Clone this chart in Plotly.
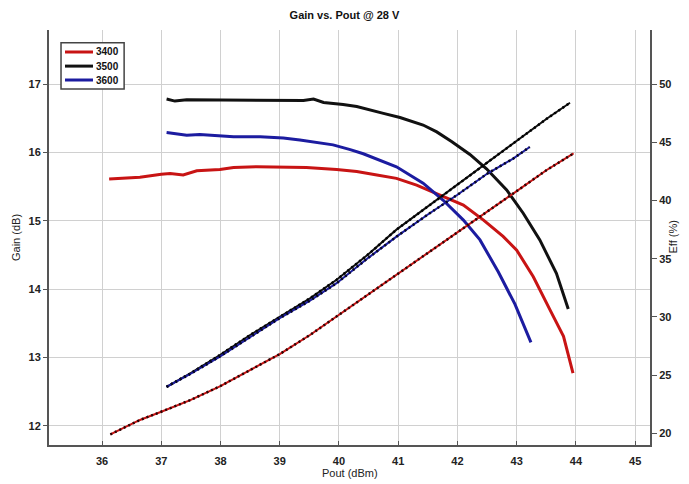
import plotly.graph_objects as go

# Gain curves (solid), x = Pout (dBm), y = Gain (dB)
g3400_x = [36.12, 36.64, 37.0, 37.15, 37.37, 37.6, 37.99, 38.22, 38.61, 39.0, 39.45, 39.96, 40.3, 40.64, 40.97, 41.31, 41.7, 42.1, 42.44, 42.77, 43.0, 43.28, 43.56, 43.79, 43.95]
g3400_y = [15.61, 15.636, 15.68, 15.69, 15.67, 15.73, 15.75, 15.78, 15.79, 15.79, 15.78, 15.75, 15.72, 15.67, 15.62, 15.52, 15.38, 15.23, 15.01, 14.77, 14.57, 14.18, 13.70, 13.31, 12.77]

g3500_x = [37.09, 37.23, 37.43, 37.94, 38.5, 39.06, 39.4, 39.57, 39.74, 40.07, 40.3, 40.75, 41.03, 41.42, 41.65, 41.9, 42.21, 42.49, 42.83, 43.11, 43.39, 43.67, 43.87]
g3500_y = [16.78, 16.75, 16.77, 16.77, 16.76, 16.77, 16.76, 16.78, 16.73, 16.70, 16.67, 16.57, 16.51, 16.40, 16.30, 16.16, 15.97, 15.76, 15.45, 15.11, 14.72, 14.23, 13.71]

g3600_x = [37.09, 37.43, 37.65, 38.22, 38.67, 39.06, 39.34, 39.62, 39.9, 40.19, 40.41, 40.97, 41.42, 41.76, 42.1, 42.38, 42.69, 42.97, 43.24]
g3600_y = [16.29, 16.25, 16.26, 16.23, 16.23, 16.21, 16.18, 16.15, 16.11, 16.04, 15.98, 15.79, 15.55, 15.30, 15.01, 14.72, 14.25, 13.78, 13.22]

# Efficiency curves (dotted), y = Eff (%)
e3400_x = [36.14, 36.64, 37.0, 37.49, 37.99, 38.5, 39.0, 39.51, 40.02, 40.69, 41.25, 41.82, 42.38, 42.94, 43.5, 43.96]
e3400_y = [19.91, 21.15, 21.86, 22.86, 24.04, 25.44, 26.81, 28.45, 30.25, 32.6, 34.6, 36.6, 38.6, 40.6, 42.6, 44.05]

e3500_x = [37.09, 37.49, 37.99, 38.5, 39.0, 39.51, 39.96, 40.5, 40.97, 41.5, 42.0, 42.49, 43.0, 43.5, 43.9]
e3500_y = [24.0, 25.15, 26.73, 28.45, 30.0, 31.6, 33.2, 35.4, 37.5, 39.5, 41.4, 43.2, 45.1, 47.0, 48.4]

e3600_x = [37.09, 37.49, 37.99, 38.5, 39.0, 39.51, 39.96, 40.5, 40.97, 41.5, 42.0, 42.5, 42.94, 43.22]
e3600_y = [24.0, 25.1, 26.6, 28.3, 29.9, 31.4, 32.9, 35.1, 36.9, 38.8, 40.5, 42.3, 43.6, 44.6]

names = ["3400", "3500", "3600"]
colors = ["#c81414", "#111111", "#1c1ca0"]
dotcolors = ["#2a0404", "#000000", "#060620"]

gains = [(g3400_x, g3400_y), (g3500_x, g3500_y), (g3600_x, g3600_y)]
effs = [(e3400_x, e3400_y), (e3500_x, e3500_y), (e3600_x, e3600_y)]

fig = go.Figure()
for (gx, gy), n, c in zip(gains, names, colors):
    fig.add_trace(go.Scatter(x=gx, y=gy, mode="lines", name=n, showlegend=False,
                             line=dict(color=c, width=3)))
for (ex, ey), n, c, dc in zip(effs, names, colors, dotcolors):
    fig.add_trace(go.Scatter(x=ex, y=ey, mode="lines", yaxis="y2", showlegend=False,
                             line=dict(color=c, width=2)))
    fig.add_trace(go.Scatter(x=ex, y=ey, mode="lines", yaxis="y2", showlegend=False,
                             line=dict(color=dc, width=2.5, dash="2px,3px")))

fam = "Liberation Sans, Arial, sans-serif"
axfont = dict(family=fam, size=11, color="#222")
tickfont = dict(family=fam, size=11, color="#222", weight="bold")

# Legend drawn as a boxed key in the upper-left corner (paper coordinates)
shapes = [dict(type="rect", xref="paper", yref="paper", x0=0.02, x1=0.125, y0=0.858, y1=0.969,
               line=dict(color="#444", width=1.5), fillcolor="white", layer="above")]
annotations = []
leg_y = [0.947, 0.913, 0.8795]
for n, c, ly in zip(names, colors, leg_y):
    shapes.append(dict(type="line", xref="paper", yref="paper", x0=0.0266, x1=0.0732, y0=ly, y1=ly,
                       line=dict(color=c, width=3), layer="above"))
    annotations.append(dict(text=n, x=0.0745, y=ly, xref="paper", yref="paper", xanchor="left",
                            yanchor="middle", showarrow=False,
                            font=dict(family=fam, size=10, color="#111", weight="bold")))
annotations.append(dict(text="Eff (%)", x=1, xref="paper", y=0.5, yref="paper", xshift=22,
                        xanchor="center", yanchor="middle", textangle=-90, showarrow=False,
                        font=axfont))
annotations.append(dict(text="Pout (dBm)", x=0.5, xref="paper", y=0, yref="paper", yshift=-28,
                        xanchor="center", yanchor="middle", showarrow=False, font=axfont))

fig.update_layout(
    width=673, height=476,
    margin=dict(l=41, r=31, t=22, b=39),
    paper_bgcolor="white", plot_bgcolor="white",
    title=dict(text="<b>Gain vs. Pout @ 28 V</b>", x=0.5, xanchor="center", y=1 - 7 / 476, yanchor="middle",
               yref="container", font=dict(family=fam, size=11, color="#111")),
    showlegend=False,
    shapes=shapes,
    annotations=annotations,
    xaxis=dict(range=[35.105, 45.25], dtick=1, tick0=36, showgrid=True, gridcolor="#d0d0d0", gridwidth=1,
               showline=True, linecolor="#555", linewidth=2, mirror=False, automargin=False,
               ticks="inside", ticklen=4, tickcolor="#555", ticklabelstandoff=5,
               tickfont=tickfont, zeroline=False),
    yaxis=dict(range=[11.72, 17.79], dtick=1, tick0=12, showgrid=True, gridcolor="#d0d0d0", gridwidth=1,
               showline=True, linecolor="#555", linewidth=2, automargin=False,
               ticks="outside", ticklen=4, tickcolor="#555",
               tickfont=tickfont, title=dict(text="Gain (dB)", font=axfont, standoff=6),
               zeroline=False),
    yaxis2=dict(range=[19.0, 54.65], dtick=5, tick0=20, overlaying="y", side="right", showgrid=False,
                showline=True, linecolor="#555", linewidth=2, automargin=False,
                ticks="outside", ticklen=5, tickcolor="#555",
                tickfont=tickfont, zeroline=False),
)

fig.write_html("out.html")
